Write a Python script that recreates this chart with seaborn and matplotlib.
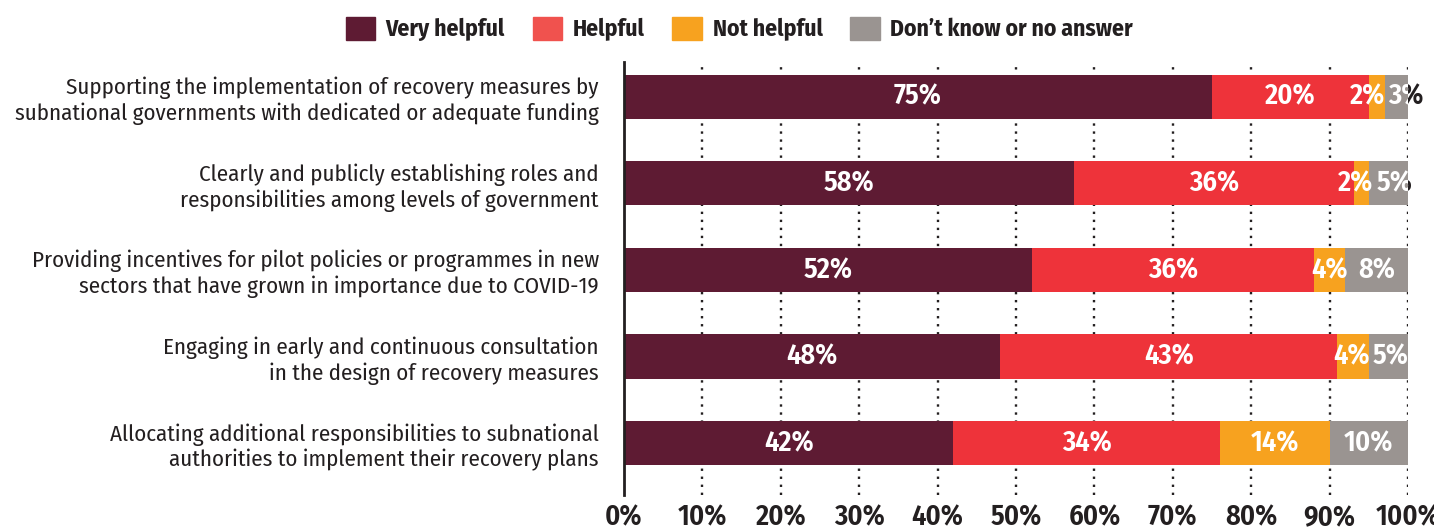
import matplotlib
matplotlib.use("Agg")
import matplotlib.pyplot as plt
import matplotlib.patches as mpatches
from matplotlib.transforms import Bbox, TransformedBbox
from matplotlib.ticker import FuncFormatter
import numpy as np
import pandas as pd
import seaborn as sns

sns.set_theme(style="white")
plt.rcParams["font.family"] = ["Fira Sans Condensed", "Roboto Condensed", "PT Sans Narrow",
                               "Open Sans Condensed", "DejaVu Sans"]

categories = [
    "Supporting the implementation of recovery measures by\nsubnational governments with dedicated or adequate funding",
    "Clearly and publicly establishing roles and\nresponsibilities among levels of government",
    "Providing incentives for pilot policies or programmes in new\nsectors that have grown in importance due to COVID-19",
    "Engaging in early and continuous consultation\nin the design of recovery measures",
    "Allocating additional responsibilities to subnational\nauthorities to implement their recovery plans",
]
series_names = ["Very helpful", "Helpful", "Not helpful", "Don\u2019t know or no answer"]
very_helpful = [75, 58, 52, 48, 42]
helpful = [20, 36, 36, 43, 34]
not_helpful = [2, 2, 4, 4, 14]
dont_know = [3, 5, 8, 5, 10]
x_ticks = [0, 10, 20, 30, 40, 50, 60, 70, 80, 90, 100]

colors = ["#5E1B33", "#EE333A", "#F7A21F", "#9A9491"]
legend_colors = ["#5E1B33", "#F0524E", "#F7A21F", "#9A9491"]
text_dark = "#231F20"

values = np.array([very_helpful, helpful, not_helpful, dont_know], dtype=float)
totals = values.sum(axis=0)
shares = values / totals * 100          # each row scaled to a full 100% bar
ends = np.cumsum(shares, axis=0)
starts = ends - shares

fig = plt.figure(figsize=(14.34, 5.30), dpi=100)
ax = fig.add_axes([0.4351, 0.066, 0.5468, 0.817])

# stacked bars: draw cumulative totals from the outermost layer inward
for k in range(len(series_names) - 1, -1, -1):
    df = pd.DataFrame({"cat": categories, "end": ends[k]})
    sns.barplot(data=df, x="end", y="cat", orient="h", color=colors[k],
                saturation=1, width=0.51, linewidth=0, ax=ax, zorder=2)

ax.set_xlim(0, 100)
ax.set_ylim(4.6, -0.4)

# dotted vertical gridlines
for t in x_ticks[1:]:
    ax.axvline(t, color="#231F20", linestyle=(0, (1, 2.4)), linewidth=1.7, zorder=1)

# value labels: white inside the bar, dark where they run past its end
label_pairs = []
for i in range(len(categories)):
    half = 0.3
    inside = TransformedBbox(Bbox([[-5, i - half], [ends[-1, i], i + half]]), ax.transData)
    outside = TransformedBbox(Bbox([[ends[-1, i], i - half], [140, i + half]]), ax.transData)
    row = []
    for k in range(len(series_names)):
        xc = starts[k, i] + shares[k, i] / 2
        label = f"{int(values[k, i])}%"
        dark = ax.text(xc, i, label, ha="center", va="center", fontsize=20.5,
                       fontweight="semibold", color=text_dark, zorder=4.5)
        dark.set_clip_on(True)
        dark.set_clip_box(outside)
        white = ax.text(xc, i, label, ha="center", va="center", fontsize=20.5,
                        fontweight="semibold", color="white", zorder=4)
        white.set_clip_on(True)
        white.set_clip_box(inside)
        row.append([xc, dark, white])
    label_pairs.append(row)

# push apart neighbouring labels in narrow segments so they do not collide
fig.canvas.draw()
renderer = fig.canvas.get_renderer()
inv = ax.transData.inverted()
gap = 0.4
for row in label_pairs:
    widths = []
    for xc, dark, _ in row:
        bb = dark.get_window_extent(renderer)
        (x0, _), (x1, _) = inv.transform([(bb.x0, bb.y0), (bb.x1, bb.y1)])
        widths.append(x1 - x0)
    for _ in range(10):
        for k in range(1, len(row)):
            right_prev = row[k - 1][0] + widths[k - 1] / 2
            left_cur = row[k][0] - widths[k] / 2
            overlap = right_prev + gap - left_cur
            if overlap > 0:
                row[k - 1][0] -= overlap / 2
                row[k][0] += overlap / 2
    for xc, dark, white in row:
        dark.set_x(xc)
        white.set_x(xc)

ax.set_xticks(x_ticks)
ax.xaxis.set_major_formatter(FuncFormatter(lambda v, p: f"{int(v)}%"))
ax.tick_params(axis="x", length=0, pad=6, labelsize=20.5, labelcolor=text_dark)
for lbl in ax.get_xticklabels():
    lbl.set_fontweight("semibold")
ax.tick_params(axis="y", length=0, pad=18, labelsize=16.5, labelcolor=text_dark)
ax.set_xlabel("")
ax.set_ylabel("")
for lbl in ax.get_yticklabels():
    lbl.set_horizontalalignment("right")

for s in ["top", "right", "bottom"]:
    ax.spines[s].set_visible(False)
ax.spines["left"].set_color(text_dark)
ax.spines["left"].set_linewidth(2)
ax.spines["left"].set_zorder(5)

handles = [mpatches.Patch(color=c, label=n) for c, n in zip(legend_colors, series_names)]
leg = fig.legend(handles=handles, loc="center", bbox_to_anchor=(0.5155, 0.945), ncol=4,
                 frameon=False, handlelength=1.25, handleheight=1.1, handletextpad=0.45,
                 columnspacing=1.17, prop={"weight": "bold", "size": 17})
for txt in leg.get_texts():
    txt.set_color(text_dark)

fig.savefig("out.png", dpi=100)
